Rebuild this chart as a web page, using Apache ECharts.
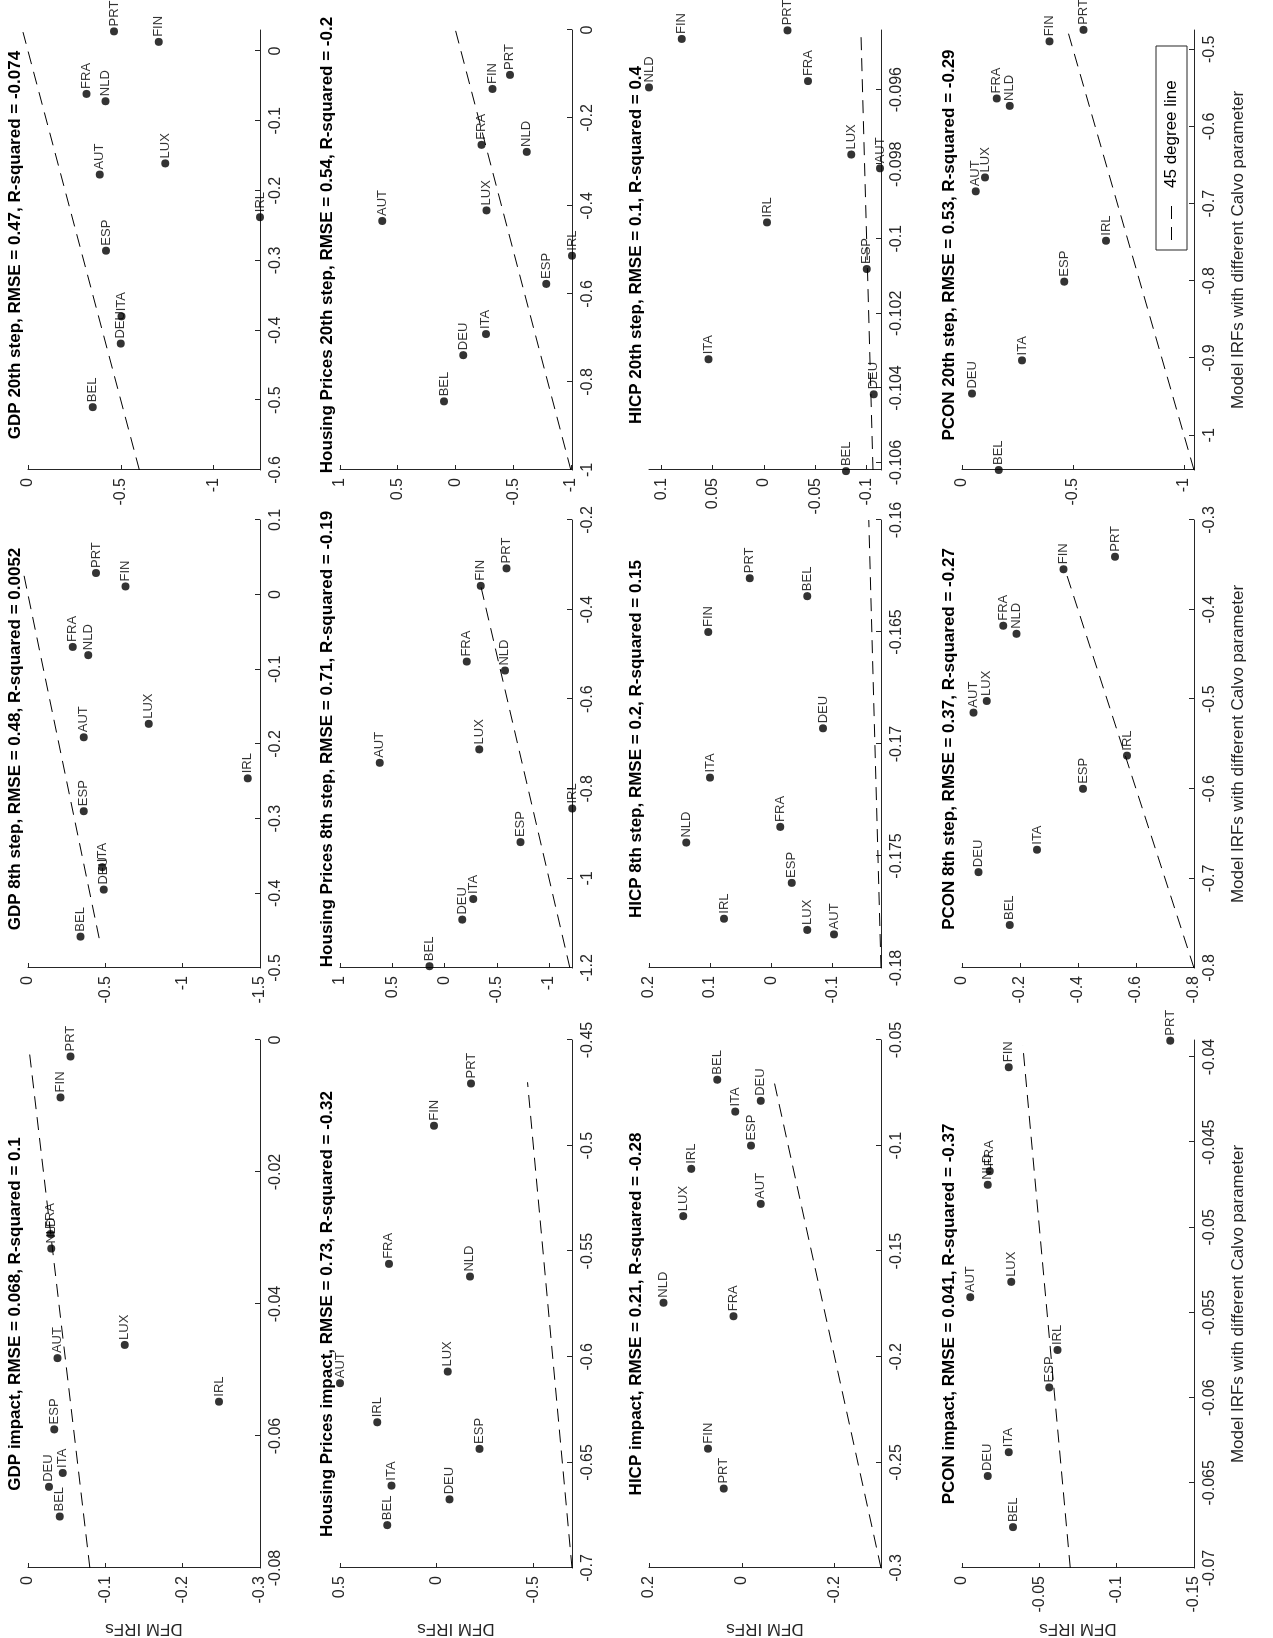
<!DOCTYPE html>
<html>
<head>
<meta charset="utf-8">
<script src="https://cdn.jsdelivr.net/npm/echarts@6/dist/echarts.min.js"></script>
<style>
  html, body { margin: 0; padding: 0; background: #fff; overflow: hidden; }
  #wrap {
    position: absolute; left: 0; top: 0;
    width: 1638px; height: 1273px;
    transform-origin: 0 0;
    transform: translate(0, 1638px) rotate(-90deg);
  }
  #chart { width: 1638px; height: 1273px; }
</style>
</head>
<body>
<div id="wrap"><div id="chart"></div></div>
<script>
// country order used by every x/y array below
var countries = ["AUT", "BEL", "DEU", "ESP", "FIN", "FRA", "IRL", "ITA", "LUX", "NLD", "PRT"];

// ---- GDP ----
var gdpImpactModel = [-0.0482, -0.0722, -0.0677, -0.059, -0.0087, -0.0294, -0.0548, -0.0656, -0.0462, -0.0316, -0.0025];
var gdpImpactDfm   = [-0.038, -0.041, -0.027, -0.034, -0.042, -0.029, -0.247, -0.045, -0.125, -0.030, -0.055];
var gdp8Model = [-0.191, -0.458, -0.395, -0.290, 0.011, -0.070, -0.246, -0.365, -0.173, -0.081, 0.029];
var gdp8Dfm   = [-0.36, -0.34, -0.49, -0.36, -0.63, -0.29, -1.42, -0.48, -0.78, -0.39, -0.44];
var gdp20Model = [-0.177, -0.510, -0.419, -0.286, 0.013, -0.0615, -0.238, -0.380, -0.161, -0.072, 0.028];
var gdp20Dfm   = [-0.387, -0.349, -0.50, -0.42, -0.705, -0.315, -1.25, -0.504, -0.74, -0.418, -0.464];

// ---- Housing prices ----
var hpImpactModel = [-0.6125, -0.6797, -0.6675, -0.6436, -0.4906, -0.556, -0.631, -0.661, -0.607, -0.562, -0.4706];
var hpImpactDfm   = [0.5, 0.255, -0.066, -0.221, 0.014, 0.247, 0.307, 0.233, -0.057, -0.172, -0.178];
var hp8Model = [-0.742, -1.196, -1.092, -0.919, -0.347, -0.516, -0.844, -1.046, -0.712, -0.536, -0.308];
var hp8Dfm   = [0.619, 0.143, -0.171, -0.727, -0.346, -0.213, -1.222, -0.276, -0.333, -0.578, -0.594];
var hp20Model = [-0.434, -0.844, -0.739, -0.577, -0.134, -0.261, -0.513, -0.691, -0.410, -0.277, -0.102];
var hp20Dfm   = [0.635, 0.099, -0.067, -0.786, -0.322, -0.226, -1.01, -0.264, -0.27, -0.617, -0.472];

// ---- HICP ----
var hicpImpactModel = [-0.1276, -0.0688, -0.0788, -0.1, -0.2435, -0.1808, -0.111, -0.0839, -0.1334, -0.1744, -0.2624];
var hicpImpactDfm   = [-0.041, 0.053, -0.041, -0.020, 0.073, 0.018, 0.109, 0.014, 0.126, 0.169, 0.039];
var hicp8Model = [-0.1785, -0.1634, -0.1693, -0.1762, -0.165, -0.1737, -0.1778, -0.1715, -0.1783, -0.1744, -0.1626];
var hicp8Dfm   = [-0.103, -0.059, -0.085, -0.034, 0.103, -0.015, 0.077, 0.10, -0.059, 0.139, 0.035];
var hicp20Model = [-0.09811, -0.10623, -0.10417, -0.10081, -0.09464, -0.09577, -0.09956, -0.10323, -0.09774, -0.09594, -0.09441];
var hicp20Dfm   = [-0.113, -0.080, -0.107, -0.100, 0.080, -0.043, -0.003, 0.054, -0.085, 0.112, -0.023];

// ---- PCON ----
var pconImpactModel = [-0.0541, -0.0676, -0.0646, -0.0594, -0.0406, -0.0467, -0.0572, -0.0632, -0.0532, -0.0475, -0.03904];
var pconImpactDfm   = [-0.0053, -0.033, -0.0166, -0.0564, -0.0302, -0.018, -0.0617, -0.0302, -0.0319, -0.0166, -0.1347];
var pcon8Model = [-0.515, -0.752, -0.693, -0.600, -0.355, -0.418, -0.563, -0.668, -0.502, -0.427, -0.341];
var pcon8Dfm   = [-0.040, -0.165, -0.057, -0.417, -0.35, -0.142, -0.569, -0.259, -0.085, -0.1875, -0.528];
var pcon20Model = [-0.684, -1.045, -0.946, -0.801, -0.4897, -0.5637, -0.748, -0.903, -0.666, -0.5733, -0.4748];
var pcon20Dfm   = [-0.062, -0.166, -0.045, -0.461, -0.394, -0.156, -0.649, -0.270, -0.104, -0.2155, -0.547];

// panel titles, row by row
var titles = [
  "GDP impact, RMSE = 0.068, R-squared = 0.1",
  "GDP 8th step, RMSE = 0.48, R-squared = 0.0052",
  "GDP 20th step, RMSE = 0.47, R-squared = -0.074",
  "Housing Prices impact, RMSE = 0.73, R-squared = -0.32",
  "Housing Prices 8th step, RMSE = 0.71, R-squared = -0.19",
  "Housing Prices 20th step, RMSE = 0.54, R-squared = -0.2",
  "HICP impact, RMSE = 0.21, R-squared = -0.28",
  "HICP 8th step, RMSE = 0.2, R-squared = 0.15",
  "HICP 20th step, RMSE = 0.1, R-squared = 0.4",
  "PCON impact, RMSE = 0.041, R-squared = -0.37",
  "PCON 8th step, RMSE = 0.37, R-squared = -0.27",
  "PCON 20th step, RMSE = 0.53, R-squared = -0.29"
];

// axis limits and tick labels per panel
var xLimits = [[-0.08, 0], [-0.5, 0.1], [-0.6, 0.03],
               [-0.7, -0.45], [-1.2, -0.2], [-1, 0],
               [-0.3, -0.05], [-0.18, -0.16], [-0.1062, -0.0944],
               [-0.07, -0.039], [-0.8, -0.3], [-1.045, -0.475]];
var yLimits = [[-0.3, 0], [-1.5, 0], [-1.25, 0],
               [-0.7, 0.5], [-1.22, 1], [-1.01, 1],
               [-0.3, 0.2], [-0.18, 0.2], [-0.114, 0.112],
               [-0.15, 0], [-0.8, 0], [-1.045, 0]];
var xTicks = [[-0.08, -0.06, -0.04, -0.02, 0], [-0.5, -0.4, -0.3, -0.2, -0.1, 0, 0.1], [-0.6, -0.5, -0.4, -0.3, -0.2, -0.1, 0],
              [-0.7, -0.65, -0.6, -0.55, -0.5, -0.45], [-1.2, -1, -0.8, -0.6, -0.4, -0.2], [-1, -0.8, -0.6, -0.4, -0.2, 0],
              [-0.3, -0.25, -0.2, -0.15, -0.1, -0.05], [-0.18, -0.175, -0.17, -0.165, -0.16], [-0.106, -0.104, -0.102, -0.1, -0.098, -0.096],
              [-0.07, -0.065, -0.06, -0.055, -0.05, -0.045, -0.04], [-0.8, -0.7, -0.6, -0.5, -0.4, -0.3], [-1, -0.9, -0.8, -0.7, -0.6, -0.5]];
var yTicks = [[-0.3, -0.2, -0.1, 0], [-1.5, -1, -0.5, 0], [-1, -0.5, 0],
              [-0.5, 0, 0.5], [-1, -0.5, 0, 0.5, 1], [-1, -0.5, 0, 0.5, 1],
              [-0.2, 0, 0.2], [-0.1, 0, 0.1, 0.2], [-0.1, -0.05, 0, 0.05, 0.1],
              [-0.15, -0.1, -0.05, 0], [-0.8, -0.6, -0.4, -0.2, 0], [-1, -0.5, 0]];
// extent of the drawn 45 degree line (x = y)
var lineSpan = [[-0.08, -0.001], [-0.46, 0.03], [-0.6, 0.027],
                [-0.7, -0.47], [-1.2, -0.33], [-1, 0],
                [-0.3, -0.069], [-0.18, -0.16], [-0.1062, -0.0944],
                [-0.07, -0.0393], [-0.8, -0.355], [-1.045, -0.476]];

var models = [gdpImpactModel, gdp8Model, gdp20Model, hpImpactModel, hp8Model, hp20Model,
              hicpImpactModel, hicp8Model, hicp20Model, pconImpactModel, pcon8Model, pcon20Model];
var dfms = [gdpImpactDfm, gdp8Dfm, gdp20Dfm, hpImpactDfm, hp8Dfm, hp20Dfm,
            hicpImpactDfm, hicp8Dfm, hicp20Dfm, pconImpactDfm, pcon8Dfm, pcon20Dfm];

var colLeft = [40, 670, 1168];
var colWidth = [558, 448, 440];
var rowTop = [28, 340, 649, 962];
var rowHeight = 232;

var FONT = "Liberation Sans, Arial, sans-serif";
var AXIS_COLOR = "#262626";

function fmt(v) {
  return String(+v.toFixed(4));
}

var grids = [], xAxes = [], yAxes = [], series = [], titleList = [];

for (var i = 0; i < 12; i++) {
  var r = Math.floor(i / 3), c = i % 3;
  grids.push({ left: colLeft[c], top: rowTop[r], width: colWidth[c], height: rowHeight });

  xAxes.push({
    type: "value", gridIndex: i,
    min: xLimits[i][0], max: xLimits[i][1],
    name: r === 3 ? "Model IRFs with different Calvo parameter" : "",
    nameLocation: "middle", nameGap: 36,
    nameTextStyle: { fontFamily: FONT, fontSize: 17, color: AXIS_COLOR },
    axisLine: { show: true, onZero: false, lineStyle: { color: AXIS_COLOR } },
    axisTick: { show: true, inside: true, length: 5, customValues: xTicks[i], lineStyle: { color: AXIS_COLOR } },
    axisLabel: { customValues: xTicks[i], formatter: fmt, fontFamily: FONT, fontSize: 16, color: AXIS_COLOR, margin: 8 },
    splitLine: { show: false }
  });
  yAxes.push({
    type: "value", gridIndex: i,
    min: yLimits[i][0], max: yLimits[i][1],
    name: c === 0 ? "DFM IRFs" : "",
    nameLocation: "middle", nameGap: 52,
    nameTextStyle: { fontFamily: FONT, fontSize: 17, color: AXIS_COLOR },
    axisLine: { show: true, onZero: false, lineStyle: { color: AXIS_COLOR } },
    axisTick: { show: true, inside: true, length: 5, customValues: yTicks[i], lineStyle: { color: AXIS_COLOR } },
    axisLabel: { customValues: yTicks[i], formatter: fmt, fontFamily: FONT, fontSize: 16, color: AXIS_COLOR, margin: 8 },
    splitLine: { show: false }
  });

  var pts = countries.map(function (name, k) {
    return { name: name, value: [models[i][k], dfms[i][k]] };
  });
  series.push({
    type: "scatter", xAxisIndex: i, yAxisIndex: i,
    data: pts, symbolSize: 8, clip: false,
    itemStyle: { color: "#000" },
    label: {
      show: true, position: "right", distance: 1,
      formatter: "{b}", fontFamily: FONT, fontSize: 13, color: "#000"
    },
    emphasis: { disabled: true }
  });
  series.push({
    type: "line", xAxisIndex: i, yAxisIndex: i,
    name: i === 11 ? "45 degree line" : "line" + i,
    data: [[lineSpan[i][0], lineSpan[i][0]], [lineSpan[i][1], lineSpan[i][1]]],
    symbol: "none", clip: false, z: 1,
    lineStyle: { color: "#000", width: 1, type: [13, 8] }
  });

  titleList.push({
    text: titles[i],
    left: colLeft[c] + colWidth[c] / 2, top: rowTop[r] - 26,
    textAlign: "center",
    textStyle: { fontFamily: FONT, fontSize: 17, fontWeight: "bold", color: "#000" }
  });
}

var chart = echarts.init(document.getElementById("chart"), null, { renderer: "canvas" });
chart.setOption({
  animation: false,
  backgroundColor: "#fff",
  title: titleList,
  grid: grids,
  xAxis: xAxes,
  yAxis: yAxes,
  series: series,
  graphic: [
    { type: "rect", shape: { x: 1388, y: 1156, width: 204, height: 31 },
      style: { fill: "#fff", stroke: "#262626", lineWidth: 1 }, z: 10 },
    { type: "line", shape: { x1: 1398, y1: 1171.5, x2: 1440, y2: 1171.5 },
      style: { stroke: "#000", lineWidth: 1, lineDash: [13, 8] }, z: 11 },
    { type: "text", x: 1450, y: 1171.5,
      style: { text: "45 degree line", fontFamily: FONT, fontSize: 17, fill: "#000", textVerticalAlign: "middle" }, z: 11 }
  ]
});
</script>
</body>
</html>
